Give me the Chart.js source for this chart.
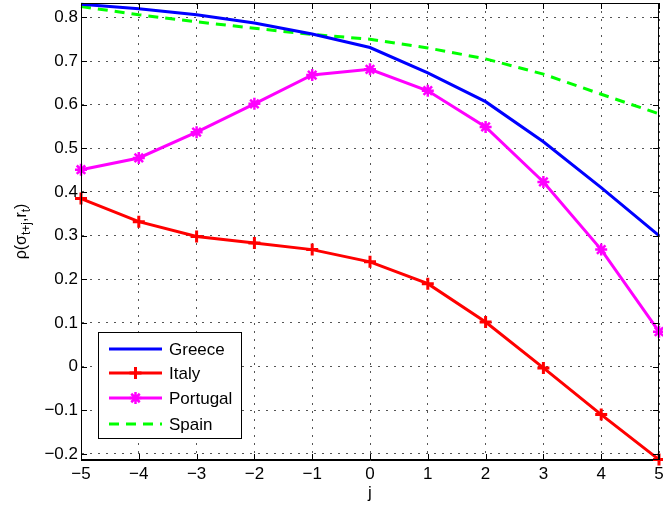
<!DOCTYPE html>
<html>
<head>
<meta charset="utf-8">
<script src="https://cdn.jsdelivr.net/npm/chart.js@4/dist/chart.umd.min.js"></script>
<style>
  html, body { margin: 0; padding: 0; background: #fff; }
  #wrap { width: 663px; height: 507px; }
</style>
</head>
<body>
<div id="wrap"><canvas id="corr" width="663" height="507"></canvas></div>
<script>
// lag j and correlation of volatility with returns, per country
const lags     = [-5, -4, -3, -2, -1, 0, 1, 2, 3, 4, 5];
const greece   = [0.830, 0.820, 0.806, 0.787, 0.762, 0.731, 0.673, 0.607, 0.515, 0.410, 0.300];
const italy    = [0.385, 0.332, 0.298, 0.283, 0.268, 0.240, 0.190, 0.102, -0.003, -0.110, -0.213];
const portugal = [0.451, 0.478, 0.537, 0.602, 0.668, 0.681, 0.632, 0.549, 0.423, 0.268, 0.080];
const spain    = [0.825, 0.806, 0.790, 0.775, 0.761, 0.750, 0.730, 0.705, 0.670, 0.624, 0.579];

const xTicks = [-5, -4, -3, -2, -1, 0, 1, 2, 3, 4, 5];
const yTicks = [-0.2, -0.1, 0, 0.1, 0.2, 0.3, 0.4, 0.5, 0.6, 0.7, 0.8];

const FONT = '"Liberation Sans", Arial, Helvetica, sans-serif';
const fmt = v => {
  const s = Number.isInteger(v) ? String(v) : v.toFixed(1);
  return s.replace('-', '\u2212');
};

const pts = ys => lags.map((x, i) => ({ x, y: ys[i] }));

function series(label, ys, color, extra) {
  return Object.assign({
    label,
    data: pts(ys),
    borderColor: color,
    backgroundColor: color,
    borderWidth: 3,
    pointRadius: 0,
    pointBorderWidth: 3,
    tension: 0,
    fill: false,
    clip: false,
  }, extra || {});
}

// MATLAB-like frame: full box plus inward ticks on every side
const frame = {
  id: 'frame',
  afterDatasetsDraw(chart) {
    const { ctx, chartArea: a, scales: { x, y } } = chart;
    ctx.save();
    ctx.strokeStyle = '#000';
    ctx.lineWidth = 1;
    ctx.setLineDash([]);
    ctx.strokeRect(a.left + 0.5, a.top + 0.5, a.right - a.left - 1, a.bottom - a.top - 1);
    const t = 6;
    ctx.beginPath();
    xTicks.forEach(v => {
      const px = Math.round(x.getPixelForValue(v)) + 0.5;
      ctx.moveTo(px, a.bottom); ctx.lineTo(px, a.bottom - t);
      ctx.moveTo(px, a.top); ctx.lineTo(px, a.top + t);
    });
    yTicks.forEach(v => {
      const py = Math.round(y.getPixelForValue(v)) + 0.5;
      ctx.moveTo(a.left, py); ctx.lineTo(a.left + t, py);
      ctx.moveTo(a.right, py); ctx.lineTo(a.right - t, py);
    });
    ctx.stroke();
    ctx.restore();
  },
  afterDraw(chart) {
    const { ctx, chartArea: a } = chart;
    ctx.save();
    ctx.fillStyle = '#000';
    // x label
    ctx.font = '17px ' + FONT;
    ctx.textAlign = 'center';
    ctx.textBaseline = 'middle';
    ctx.fillText('j', (a.left + a.right) / 2, 493);

    // y label: ρ(σ_{t+j}, r_t), rotated
    ctx.translate(22, (a.top + a.bottom) / 2);
    ctx.rotate(-Math.PI / 2);
    const big = '16px ' + FONT, small = '12px ' + FONT;
    const parts = [
      ['\u03c1(\u03c3', big, 0],
      ['t+j', small, 5],
      [',', big, 0],
      ['r', big, 0],
      ['t', small, 5],
      [')', big, 0],
    ];
    let w = 0;
    parts.forEach(p => { ctx.font = p[1]; w += ctx.measureText(p[0]).width; });
    let cx = -w / 2;
    ctx.textAlign = 'left';
    ctx.textBaseline = 'middle';
    parts.forEach(p => {
      ctx.font = p[1];
      ctx.fillText(p[0], cx, p[2]);
      cx += ctx.measureText(p[0]).width;
    });
    ctx.restore();

    drawLegend(chart);
  }
};

function drawLegend(chart) {
  const { ctx } = chart;
  const box = { x: 98, y: 332, w: 143, h: 106 };
  const rows = [349, 373, 398, 424];
  ctx.save();
  ctx.fillStyle = '#fff';
  ctx.fillRect(box.x, box.y, box.w, box.h);
  ctx.strokeStyle = '#000';
  ctx.lineWidth = 1;
  ctx.strokeRect(box.x + 0.5, box.y + 0.5, box.w, box.h);
  chart.data.datasets.forEach((ds, i) => {
    const ry = rows[i];
    ctx.save();
    ctx.strokeStyle = ds.borderColor;
    ctx.lineWidth = ds.borderWidth;
    ctx.setLineDash(ds.borderDash || []);
    ctx.beginPath();
    ctx.moveTo(109, ry);
    ctx.lineTo(162, ry);
    ctx.stroke();
    ctx.restore();
    if (ds.pointStyle) {
      ctx.save();
      ctx.strokeStyle = ds.borderColor;
      ctx.fillStyle = ds.borderColor;
      ctx.lineWidth = ds.pointBorderWidth;
      Chart.helpers.drawPoint(ctx, {
        pointStyle: ds.pointStyle,
        radius: ds.pointRadius,
        rotation: 0,
        borderWidth: ds.pointBorderWidth,
      }, 135.5, ry);
      ctx.restore();
    }
    ctx.fillStyle = '#000';
    ctx.font = '17px ' + FONT;
    ctx.textAlign = 'left';
    ctx.textBaseline = 'middle';
    ctx.fillText(ds.label, 169, ry + 1);
  });
  ctx.restore();
}

new Chart(document.getElementById('corr'), {
  type: 'line',
  data: {
    datasets: [
      series('Greece', greece, '#0000ff'),
      series('Italy', italy, '#ff0000', { pointStyle: 'cross', pointRadius: 6 }),
      series('Portugal', portugal, '#ff00ff', { pointStyle: 'star', pointRadius: 6, pointBorderWidth: 2.5 }),
      series('Spain', spain, '#00ff00', { borderDash: [10, 7] }),
    ]
  },
  options: {
    responsive: false,
    animation: false,
    layout: { autoPadding: false, padding: { top: 3, right: 4, left: 0, bottom: 0 } },
    plugins: { legend: { display: false }, tooltip: { enabled: false } },
    scales: {
      x: {
        type: 'linear',
        min: -5,
        max: 5,
        afterBuildTicks: s => { s.ticks = xTicks.map(v => ({ value: v })); },
        afterFit: s => { s.height = 47; s.paddingLeft = 0; s.paddingRight = 0; },
        ticks: {
          color: '#000',
          font: { family: FONT, size: 17 },
          padding: 4,
          maxRotation: 0,
          callback: v => fmt(v),
        },
        grid: { color: '#555', lineWidth: 1, drawTicks: false },
        border: { display: true, color: '#000', dash: [2, 6] },
      },
      y: {
        type: 'linear',
        min: -0.214,
        max: 0.833,
        afterBuildTicks: s => { s.ticks = yTicks.map(v => ({ value: v })); },
        afterFit: s => { s.width = 81; s.paddingTop = 0; s.paddingBottom = 0; },
        ticks: {
          color: '#000',
          font: { family: FONT, size: 17 },
          padding: 3,
          callback: v => fmt(v),
        },
        grid: { color: '#555', lineWidth: 1, drawTicks: false },
        border: { display: true, color: '#000', dash: [2, 6] },
      }
    }
  },
  plugins: [frame]
});
</script>
</body>
</html>
